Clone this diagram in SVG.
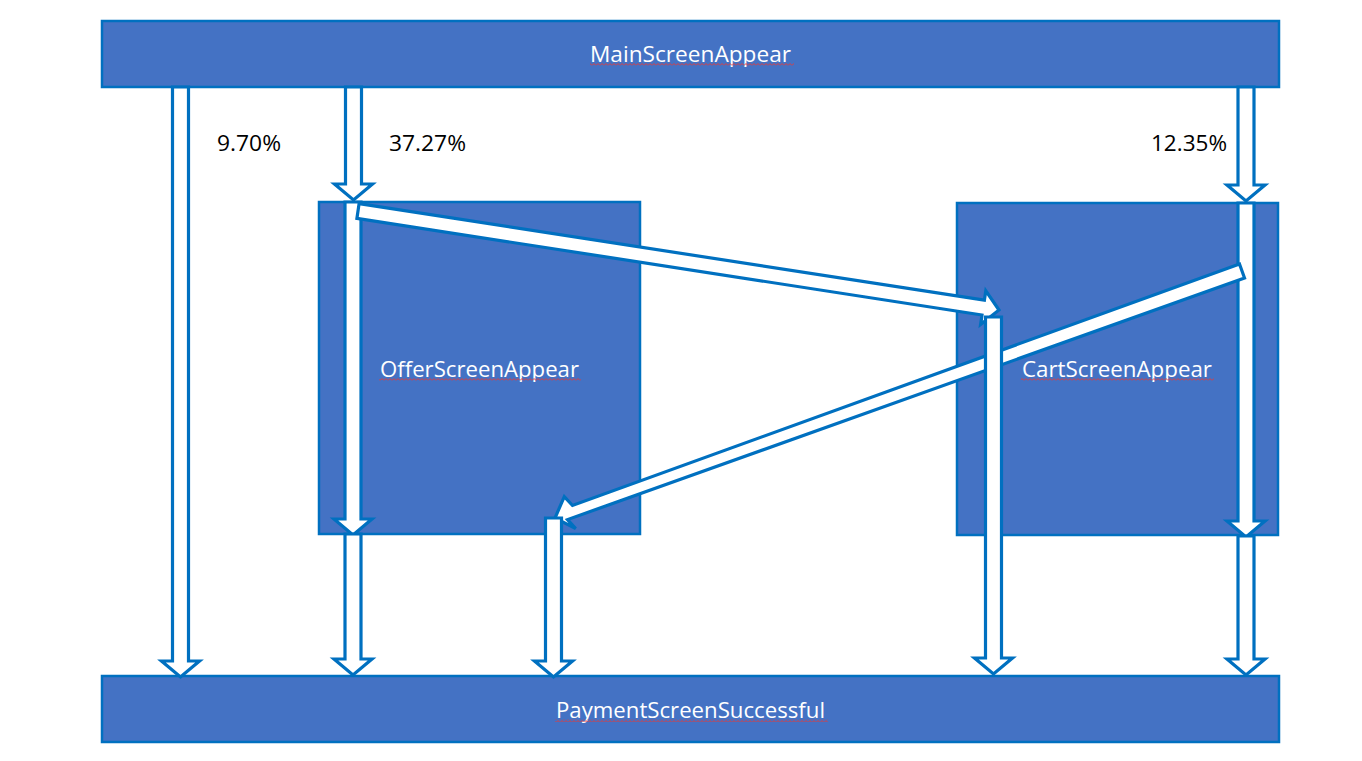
<svg xmlns="http://www.w3.org/2000/svg" width="1362" height="761" viewBox="0 0 1362 761">
<style>
.box{fill:#4472C4;stroke:#0070C0;stroke-width:2.5}
.arr{fill:#FFFFFF;stroke:#0070C0;stroke-width:3.2;stroke-linejoin:miter}
.lbl{font-family:"Open Sans","Liberation Sans",sans-serif;font-size:21px;fill:#FFFFFF;text-anchor:middle}
.pct{font-family:"Open Sans","Liberation Sans",sans-serif;font-size:21px;fill:#000000}
</style>
<defs>
<pattern id="sq" x="0" y="0" width="4" height="3" patternUnits="userSpaceOnUse">
<path d="M0,2.5 L2,0.5 L4,2.5" fill="none" stroke="#E03C3C" stroke-width="1"/>
</pattern>
</defs>
<rect width="1362" height="761" fill="#FFFFFF"/>
<g id="node-main">
<rect class="box" x="102" y="21" width="1177" height="66"/>
<text class="lbl" x="690.5" y="62" textLength="201" lengthAdjust="spacingAndGlyphs">MainScreenAppear</text>
<rect x="590" y="63" width="204" height="3" fill="url(#sq)"/>
</g>
<g id="node-offer">
<rect class="box" x="319" y="202" width="321" height="332"/>
<text class="lbl" x="479.5" y="377" textLength="199" lengthAdjust="spacingAndGlyphs">OfferScreenAppear</text>
<rect x="379" y="378" width="202" height="3" fill="url(#sq)"/>
</g>
<g id="node-cart">
<rect class="box" x="957" y="203" width="321" height="332"/>
<text class="lbl" x="1117" y="377" textLength="190" lengthAdjust="spacingAndGlyphs">CartScreenAppear</text>
<rect x="1021" y="378" width="193" height="3" fill="url(#sq)"/>
</g>
<g id="node-payment">
<rect class="box" x="102" y="676" width="1177" height="66"/>
<text class="lbl" x="690.5" y="718" textLength="269" lengthAdjust="spacingAndGlyphs">PaymentScreenSuccessful</text>
<rect x="555" y="719" width="273" height="3" fill="url(#sq)"/>
</g>
<g id="connectors">
<polygon class="arr" points="172.5,87 188.5,87 188.5,661 199.5,661 180.5,677 161.5,661 172.5,661"/>
<polygon class="arr" points="345.5,87 361.5,87 361.5,184 372.5,184 353.5,200 334.5,184 345.5,184"/>
<polygon class="arr" points="1238,87 1254,87 1254,185 1265,185 1246,201 1227,185 1238,185"/>
<polygon class="arr" points="345,202 361,202 361,519 372,519 353,535 334,519 345,519"/>
<polygon class="arr" points="345,534 361,534 361,659 372,659 353,675 334,659 345,659"/>
<polygon class="arr" points="1238,203 1254,203 1254,521 1265,521 1246,537 1227,521 1238,521"/>
<polygon class="arr" points="1238,536 1254,536 1254,659 1265,659 1246,675 1227,659 1238,659"/>
<polygon class="arr" points="359.1,203.6 984.4,300.2 985.8,290.8 999,310 980.6,324.4 982.0,315.0 356.9,218.4"/>
<polygon class="arr" points="1239.5,264 572.5,505.5 564.3,496.6 555,518 575.7,528.6 567.5,519.6 1244.5,278"/>
<polygon class="arr" points="985.5,317 1001.5,317 1001.5,658 1012.5,658 993.5,674 974.5,658 985.5,658"/>
<polygon class="arr" points="545.5,518 561.5,518 561.5,661 572.5,661 553.5,677 534.5,661 545.5,661"/>
</g>
<g id="labels">
<text class="pct" x="217" y="151" textLength="64" lengthAdjust="spacingAndGlyphs">9.70%</text>
<text class="pct" x="389" y="151" textLength="77" lengthAdjust="spacingAndGlyphs">37.27%</text>
<text class="pct" x="1151" y="151" textLength="76" lengthAdjust="spacingAndGlyphs">12.35%</text>
</g>
</svg>
